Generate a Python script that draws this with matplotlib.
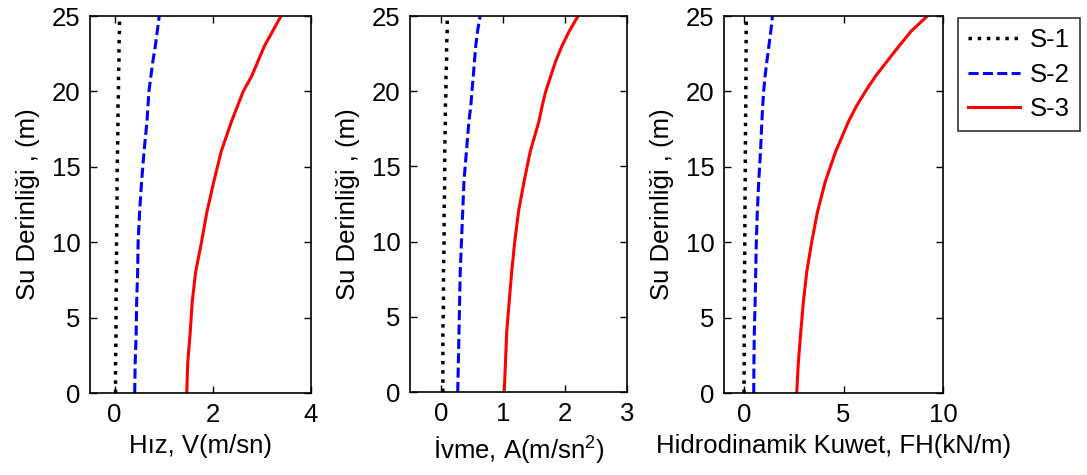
import numpy as np
import matplotlib
matplotlib.use("Agg")
import matplotlib.pyplot as plt

plt.rcParams['font.family'] = ['Liberation Sans', 'DejaVu Sans']
plt.rcParams['mathtext.fontset'] = 'custom'
plt.rcParams['mathtext.rm'] = 'Liberation Sans'

# Water depth (m) at which each profile is sampled
depth = [0, 2, 4, 6, 8, 10, 12, 14, 16, 18, 19, 20, 21, 22, 23, 24, 25]

# Velocity V (m/sn)
vel_s1 = [0.02, 0.02, 0.03, 0.03, 0.04, 0.04, 0.05, 0.05, 0.06, 0.07,
          0.07, 0.08, 0.08, 0.09, 0.09, 0.10, 0.10]
vel_s2 = [0.41, 0.42, 0.44, 0.45, 0.47, 0.48, 0.51, 0.55, 0.60, 0.66,
          0.68, 0.70, 0.74, 0.78, 0.83, 0.87, 0.91]
vel_s3 = [1.47, 1.49, 1.54, 1.58, 1.65, 1.77, 1.88, 2.02, 2.17, 2.38,
          2.50, 2.62, 2.79, 2.92, 3.05, 3.22, 3.39]

# Acceleration A (m/sn^2)
acc_s1 = [0.03, 0.03, 0.03, 0.04, 0.04, 0.05, 0.05, 0.06, 0.06, 0.07,
          0.07, 0.08, 0.08, 0.09, 0.09, 0.10, 0.10]
acc_s2 = [0.27, 0.28, 0.29, 0.30, 0.31, 0.33, 0.35, 0.37, 0.41, 0.45,
          0.48, 0.50, 0.52, 0.54, 0.56, 0.59, 0.63]
acc_s3 = [1.02, 1.04, 1.06, 1.10, 1.14, 1.19, 1.25, 1.34, 1.44, 1.58,
          1.63, 1.69, 1.77, 1.85, 1.95, 2.07, 2.21]

# Hydrodynamic force FH (kN/m)
force_s1 = [0.00, 0.01, 0.01, 0.02, 0.03, 0.04, 0.05, 0.06, 0.07, 0.08,
            0.09, 0.09, 0.10, 0.10, 0.11, 0.11, 0.12]
force_s2 = [0.49, 0.50, 0.52, 0.56, 0.59, 0.62, 0.67, 0.74, 0.83, 0.90,
            0.94, 0.99, 1.06, 1.15, 1.25, 1.35, 1.43]
force_s3 = [2.65, 2.73, 2.85, 2.98, 3.15, 3.40, 3.69, 4.08, 4.60, 5.25,
            5.64, 6.10, 6.60, 7.19, 7.78, 8.40, 9.21]

labels = ['S-1', 'S-2', 'S-3']
styles = [dict(color='black', linestyle=':', linewidth=2.5),
          dict(color='blue', linestyle='--', linewidth=2.2, dashes=(3.3, 1.4)),
          dict(color='red', linestyle='-', linewidth=2.2)]

FS = 18.5

panels = [
    dict(pos=[0.0828, 0.1726, 0.2033, 0.7937], series=[vel_s1, vel_s2, vel_s3],
         xlim=(-0.5, 4), xticks=[0, 2, 4], xlabel='Hız, V(m/sn)'),
    dict(pos=[0.3772, 0.1747, 0.1996, 0.7916], series=[acc_s1, acc_s2, acc_s3],
         xlim=(-0.5, 3), xticks=[0, 1, 2, 3], xlabel='İvme, A(m/sn$^2$)'),
    dict(pos=[0.6661, 0.1726, 0.2015, 0.7937], series=[force_s1, force_s2, force_s3],
         xlim=(-1, 10), xticks=[0, 5, 10], xlabel='Hidrodinamik Kuwet, FH(kN/m)'),
]

fig = plt.figure(figsize=(10.87, 4.75), dpi=100)

lines = []
for p in panels:
    ax = fig.add_axes(p['pos'])
    lines = []
    for vals, lab, st in zip(p['series'], labels, styles):
        ln, = ax.plot(vals, depth, label=lab, **st)
        lines.append(ln)
    ax.set_xlim(*p['xlim'])
    ax.set_ylim(0, 25)
    ax.set_xticks(p['xticks'])
    ax.set_yticks([0, 5, 10, 15, 20, 25])
    ax.set_xlabel(p['xlabel'], fontsize=FS, labelpad=5)
    ax.set_ylabel('Su Derinliği , (m)', fontsize=FS, labelpad=8)
    ax.tick_params(direction='in', top=True, right=True, labelsize=FS,
                   length=5, width=1, pad=7)
    for s in ax.spines.values():
        s.set_linewidth(1.2)

leg = fig.legend(lines, labels, loc='upper left', bbox_to_anchor=(0.8813, 0.962),
                 fontsize=FS, frameon=True, fancybox=False, edgecolor='black',
                 handlelength=2.0, borderpad=0.4, labelspacing=0.4,
                 handletextpad=0.4, borderaxespad=0)
leg.get_frame().set_linewidth(1.2)

fig.savefig('out.png', dpi=100, facecolor='white')
